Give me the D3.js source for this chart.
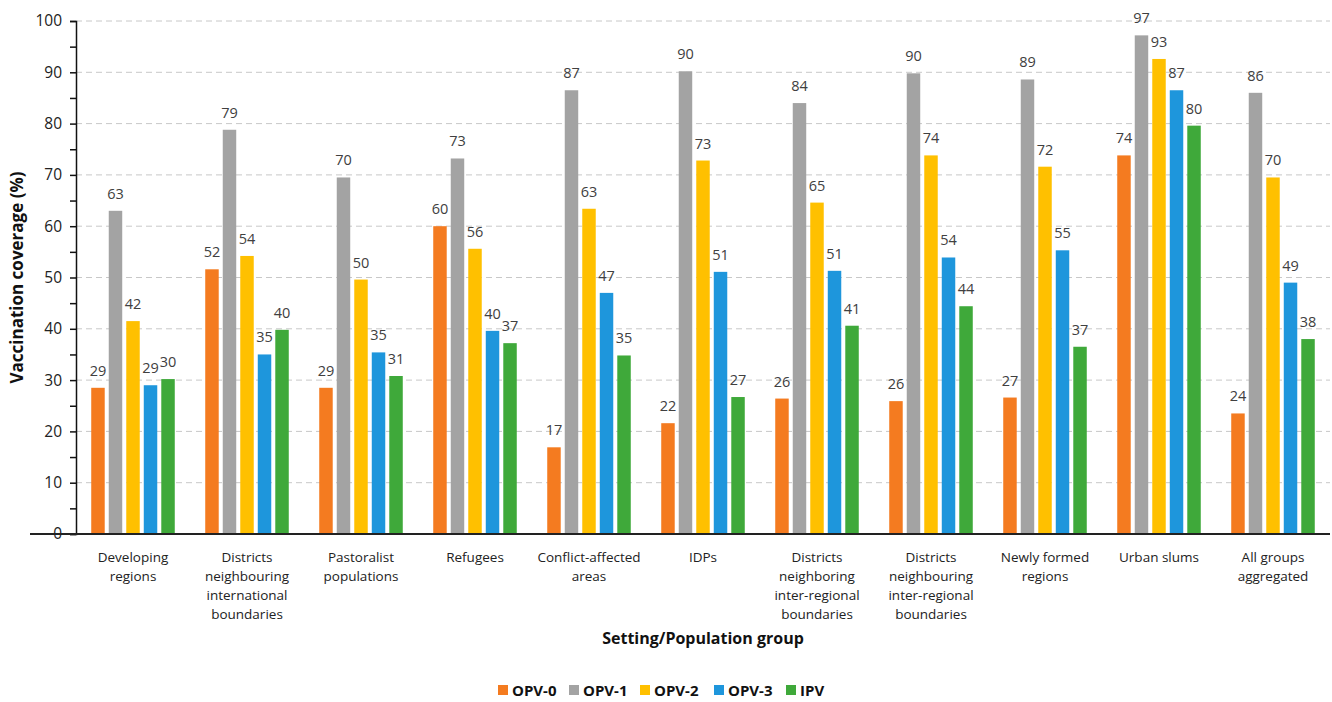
<!DOCTYPE html>
<html>
<head>
<meta charset="utf-8">
<script src="https://cdn.jsdelivr.net/npm/d3@7"></script>
<style>
  html, body { margin: 0; padding: 0; background: #fff; }
  svg { display: block; }
  text { font-family: "Open Sans", "Noto Sans", sans-serif; }
</style>
</head>
<body>
<svg id="chart" width="1332" height="702"></svg>
<script>
// ---- Data ----
const categories = [
  ["Developing", "regions"],
  ["Districts", "neighbouring", "international", "boundaries"],
  ["Pastoralist", "populations"],
  ["Refugees"],
  ["Conflict-affected", "areas"],
  ["IDPs"],
  ["Districts", "neighboring", "inter-regional", "boundaries"],
  ["Districts", "neighbouring", "inter-regional", "boundaries"],
  ["Newly formed", "regions"],
  ["Urban slums"],
  ["All groups", "aggregated"]
];
const seriesNames = ["OPV-0", "OPV-1", "OPV-2", "OPV-3", "IPV"];
const opv0 = [28.5, 51.6, 28.5, 60.0, 16.9, 21.6, 26.4, 25.9, 26.6, 73.8, 23.5];
const opv1 = [63.0, 78.8, 69.5, 73.2, 86.5, 90.2, 84.0, 89.8, 88.6, 97.2, 86.0];
const opv2 = [41.5, 54.2, 49.6, 55.6, 63.4, 72.8, 64.6, 73.8, 71.6, 92.6, 69.5];
const opv3 = [29.0, 35.0, 35.4, 39.6, 47.0, 51.1, 51.3, 53.9, 55.3, 86.5, 49.0];
const ipv  = [30.2, 39.8, 30.8, 37.2, 34.8, 26.7, 40.6, 44.4, 36.5, 79.6, 38.0];
const yTicks = [0, 10, 20, 30, 40, 50, 60, 70, 80, 90, 100];
const yMinorTicks = [5, 15, 25, 35, 45, 55, 65, 75, 85, 95];
const colors = ["#F47B20", "#A3A3A3", "#FFC000", "#1E96DC", "#3FA93A"];

const seriesValues = [opv0, opv1, opv2, opv3, ipv];

// ---- Layout ----
const svg = d3.select("#chart");
const margin = { left: 76, right: 2, top: 21, bottom: 168 };
const W = 1332, H = 702;
const x0 = d3.scaleBand().domain(d3.range(categories.length))
  .range([margin.left, W - margin.right]).padding(0);
const x1 = d3.scaleBand().domain(d3.range(seriesNames.length))
  .range([0, x0.bandwidth()]).paddingInner(0.23).paddingOuter(0.87);
const y = d3.scaleLinear().domain([0, 100]).range([H - margin.bottom, margin.top]);

// gridlines
svg.append("g").selectAll("line").data(yTicks.filter(d => d > 0)).join("line")
  .attr("x1", margin.left).attr("x2", W - margin.right)
  .attr("y1", d => y(d)).attr("y2", d => y(d))
  .attr("stroke", "#c8c8c8").attr("stroke-width", 1).attr("stroke-dasharray", "6,4");

// bars
const groups = svg.append("g").selectAll("g").data(categories).join("g")
  .attr("transform", (d, i) => `translate(${x0(i)},0)`);
groups.each(function(_, ci) {
  const g = d3.select(this);
  seriesValues.forEach((vals, si) => {
    const v = vals[ci];
    g.append("rect")
      .attr("x", x1(si)).attr("width", x1.bandwidth())
      .attr("y", y(v)).attr("height", y(0) - y(v))
      .attr("fill", colors[si]);
    g.append("text")
      .attr("x", x1(si) + x1.bandwidth() / 2).attr("y", y(v) - 12)
      .attr("text-anchor", "middle").attr("font-size", 14.5).attr("fill", "#404040")
      .text(Math.round(v));
  });
});

// y axis
const yAxis = d3.axisLeft(y).tickValues(yTicks).tickSize(6).tickPadding(8);
const ya = svg.append("g").attr("transform", `translate(${margin.left},0)`).call(yAxis);
ya.select(".domain").attr("stroke", "#111").attr("stroke-width", 1.5);
ya.selectAll(".tick line").attr("stroke", "#111").attr("stroke-width", 1.5);
ya.selectAll(".tick text").attr("font-size", 15.5).attr("fill", "#222")
  .attr("font-family", "'Open Sans', sans-serif");
const yMinor = d3.axisLeft(y).tickValues(yMinorTicks).tickSize(6).tickFormat("");
const ym = svg.append("g").attr("transform", `translate(${margin.left},0)`).call(yMinor);
ym.select(".domain").remove();
ym.selectAll(".tick line").attr("stroke", "#111").attr("stroke-width", 1.5);

// x axis line
svg.append("line")
  .attr("x1", 30).attr("x2", W - margin.right)
  .attr("y1", y(0)).attr("y2", y(0))
  .attr("stroke", "#222").attr("stroke-width", 2);

// category labels
const catG = svg.append("g");
categories.forEach((lines, i) => {
  const t = catG.append("text")
    .attr("x", x0(i) + x0.bandwidth() / 2).attr("y", y(0) + 28)
    .attr("text-anchor", "middle").attr("font-size", 13.5).attr("fill", "#222");
  lines.forEach((ln, j) => {
    t.append("tspan").attr("x", x0(i) + x0.bandwidth() / 2)
      .attr("dy", j === 0 ? 0 : 19).text(ln);
  });
});

// axis titles
svg.append("text")
  .attr("transform", `translate(23,${(y(0) + y(100)) / 2}) rotate(-90)`)
  .attr("text-anchor", "middle").attr("font-size", 17).attr("font-weight", "bold").attr("fill", "#111")
  .text("Vaccination coverage (%)");
svg.append("text")
  .attr("x", (margin.left + W - margin.right) / 2).attr("y", 644)
  .attr("text-anchor", "middle").attr("font-size", 16).attr("font-weight", "bold").attr("fill", "#111")
  .text("Setting/Population group");

// legend
const legendX = [498, 569, 640, 714, 786];
const lg = svg.append("g");
seriesNames.forEach((name, i) => {
  lg.append("rect").attr("x", legendX[i]).attr("y", 685).attr("width", 10).attr("height", 10)
    .attr("fill", colors[i]);
  lg.append("text").attr("x", legendX[i] + 14).attr("y", 695.5)
    .attr("font-size", 15).attr("font-weight", "bold").attr("fill", "#111").text(name);
});
</script>
</body>
</html>
